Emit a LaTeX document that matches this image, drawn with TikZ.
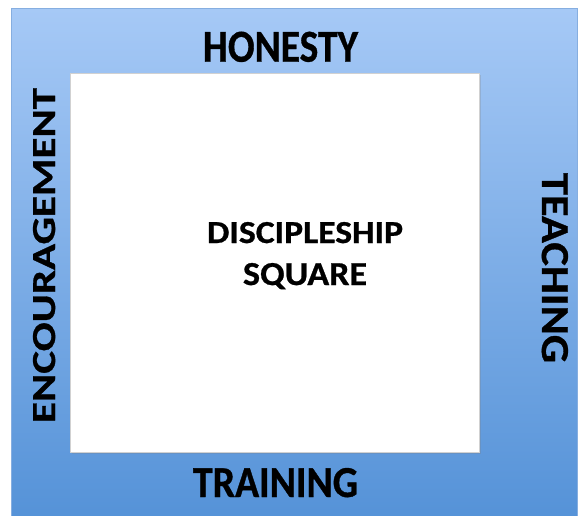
\documentclass[tikz,border=0pt]{standalone}
\usepackage{fontspec}
\setmainfont{Carlito}[BoldFeatures={FakeBold=0.8}]
\usetikzlibrary{shadows}
\definecolor{bluetop}{HTML}{A6C9F6}
\definecolor{bluebot}{HTML}{5391D7}
\definecolor{blueedge}{HTML}{86AEE0}
\tikzset{
  lbl/.style={inner sep=0pt, anchor=base, text=black},
}
\newcommand{\fitlbl}[3]{\resizebox{#1pt}{#2pt}{\bfseries #3}}
\begin{document}
\begin{tikzpicture}[x=1pt,y=-1pt]
\useasboundingbox (0,0) rectangle (578,515);
\fill[white] (0,0) rectangle (578,515);
\begin{scope}
\clip (0,0) rectangle (578,515);
\draw[blueedge, line width=1pt, top color=bluetop, bottom color=bluebot] (11.5,8) rectangle (577,530);
\end{scope}
\node[fill=white, draw=black!18, line width=1pt, minimum width=409pt, minimum height=379pt, inner sep=0pt, anchor=north west, drop shadow={opacity=0.25, shadow xshift=1pt, shadow yshift=-1pt}] (inner) at (70,73) {};
\node[lbl] (honesty) at (280.5,61.7) {\fitlbl{155}{30}{HONESTY}};
\node[lbl] (training) at (275.5,497) {\fitlbl{165}{29}{TRAINING}};
\node[lbl] (disc) at (305,243) {\fitlbl{196}{21}{DISCIPLESHIP}};
\node[lbl] (square) at (305,285) {\fitlbl{124}{22}{SQUARE}};
\node[lbl, rotate=90] (enc) at (55,255.5) {\fitlbl{335}{22}{ENCOURAGEMENT}};
\node[lbl, rotate=-90] (teach) at (542,268) {\fitlbl{190}{26}{TEACHING}};
\end{tikzpicture}
\end{document}
